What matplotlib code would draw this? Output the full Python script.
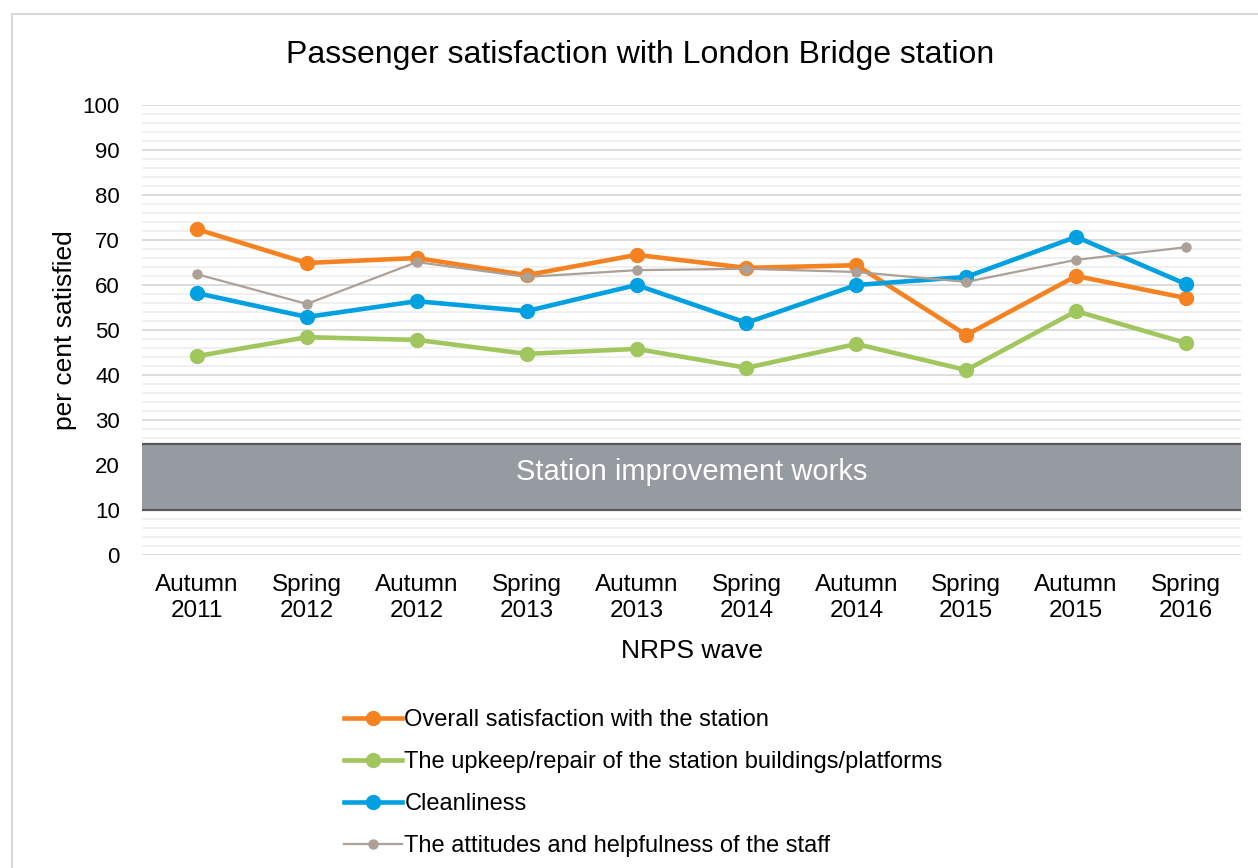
import numpy as np
import matplotlib.pyplot as plt
from matplotlib.patches import Rectangle

plt.rcParams['font.family'] = ['Liberation Sans', 'DejaVu Sans']

waves = ['Autumn\n2011', 'Spring\n2012', 'Autumn\n2012', 'Spring\n2013', 'Autumn\n2013',
         'Spring\n2014', 'Autumn\n2014', 'Spring\n2015', 'Autumn\n2015', 'Spring\n2016']
overall = [72.4, 64.9, 66.0, 62.2, 66.7, 63.8, 64.4, 48.9, 62.0, 57.1]
upkeep = [44.2, 48.4, 47.8, 44.7, 45.8, 41.6, 46.9, 41.1, 54.2, 47.1]
clean = [58.2, 52.9, 56.4, 54.2, 60.0, 51.6, 60.0, 61.8, 70.7, 60.2]
staff = [62.4, 55.8, 65.1, 61.8, 63.3, 63.6, 62.9, 60.7, 65.6, 68.4]
works_band = (10, 24.7)

fig = plt.figure(figsize=(12.58, 8.68), dpi=100)
ax = fig.add_axes([0.1129, 0.3606, 0.8736, 0.5184])

# outer chart border
fig.patches.append(Rectangle((0.0095, -0.01), 1.2, 0.994, transform=fig.transFigure,
                             fill=False, edgecolor='#d9d9d9', linewidth=1.5))

x = np.arange(len(waves))
ax.set_xlim(-0.5, len(waves) - 0.5)
ax.set_ylim(0, 100)

for v in np.arange(0, 101, 2):
    if v % 10 == 0:
        ax.axhline(v, color='#d9d9d9', lw=1.3, zorder=0)
    else:
        ax.axhline(v, color='#efefef', lw=1.3, zorder=0)

ax.axhspan(works_band[0], works_band[1], facecolor='#959ba1', edgecolor='none', zorder=1)
ax.axhline(works_band[0], color='#595959', lw=1.6, zorder=2)
ax.axhline(works_band[1], color='#595959', lw=1.6, zorder=2)
ax.text((len(waves) - 1) / 2, sum(works_band) / 2 + 1, 'Station improvement works',
        color='white', fontsize=21, ha='center', va='center', zorder=3)

ax.plot(x, overall, color='#f58220', lw=3.3, marker='o', ms=10, zorder=5,
        label='Overall satisfaction with the station')
ax.plot(x, upkeep, color='#a1c65d', lw=3.3, marker='o', ms=10, zorder=4,
        label='The upkeep/repair of the station buildings/platforms')
ax.plot(x, clean, color='#00a0e1', lw=3.3, marker='o', ms=10, zorder=6,
        label='Cleanliness')
ax.plot(x, staff, color='#aca097', lw=1.6, marker='o', ms=6.5, zorder=7,
        label='The attitudes and helpfulness of the staff')

for s in ax.spines.values():
    s.set_visible(False)
ax.set_xticks(x)
ax.set_xticklabels(waves, fontsize=17.5, linespacing=1.2)
ax.set_yticks(np.arange(0, 101, 10))
ax.tick_params(axis='y', labelsize=16, length=0, pad=16)
ax.tick_params(axis='x', length=0, pad=14)
ax.set_xlabel('NRPS wave', fontsize=19, labelpad=12)
ax.set_ylabel('per cent satisfied', fontsize=19, labelpad=4)
fig.text(0.509, 1 - 55 / 868, 'Passenger satisfaction with London Bridge station',
         fontsize=23, ha='center', va='center')

handles, labels = ax.get_legend_handles_labels()
fig.legend(handles, labels, loc='upper left', bbox_to_anchor=(0.266, 0.194),
           frameon=False, fontsize=17, handlelength=2.45, handletextpad=0.1,
           labelspacing=0.85, borderaxespad=0)

fig.savefig('out.png', dpi=100)
